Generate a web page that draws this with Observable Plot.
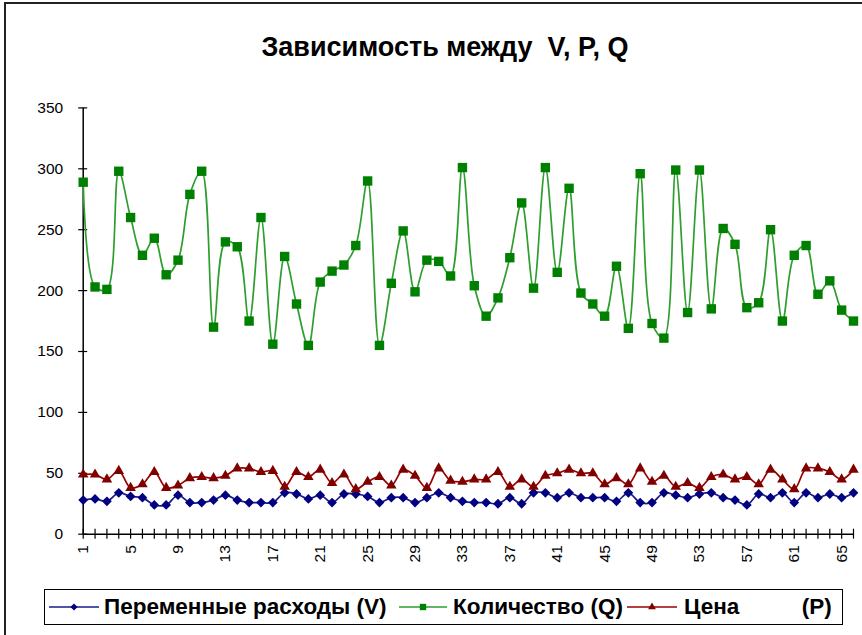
<!DOCTYPE html>
<html><head><meta charset="utf-8">
<script src="https://cdn.jsdelivr.net/npm/d3@7"></script>
<script src="https://cdn.jsdelivr.net/npm/@observablehq/plot@0.6"></script>
<style>
body{margin:0;background:#fff;}
#page{position:relative;width:862px;height:635px;overflow:hidden;font-family:"Liberation Sans",Arial,sans-serif;background:#fff;}
#frame{position:absolute;left:4px;top:2px;width:880px;height:660px;border-left:2px solid #222;border-top:2px solid #222;}
#title{position:absolute;left:0;width:890px;top:32px;text-align:center;font-weight:bold;font-size:27px;color:#000;white-space:pre;}
#chart{position:absolute;left:0;top:90px;}
#legend{position:absolute;left:44px;top:589px;width:797px;height:34px;border:1px solid #000;background:#fff;}
.item{position:absolute;top:0;height:34px;display:flex;align-items:center;font-weight:bold;font-size:22.5px;white-space:pre;color:#000;}
.sw{position:absolute;top:0;}
</style>
</head>
<body>
<div id="page">
  <div id="frame"></div>
  <div id="title">Зависимость между  V, P, Q</div>
  <div id="chart"></div>
  <div id="legend"></div>
</div>
<script>
// Categories (observation numbers)
const categories = [1,2,3,4,5,6,7,8,9,10,11,12,13,14,15,16,17,18,19,20,21,22,23,24,25,26,27,28,29,30,31,32,33,34,35,36,37,38,39,40,41,42,43,44,45,46,47,48,49,50,51,52,53,54,55,56,57,58,59,60,61,62,63,64,65,66];
// Переменные расходы (V)
const seriesV = [28,29,27,34,31,30,24,24,32,26,26,28,32,28,26,26,26,34,33,29,32,26,33,33,31,26,30,30,26,30,34,30,27,26,26,25,30,25,34,34,30,34,30,30,30,27,34,26,26,34,32,30,33,34,30,28,24,33,30,34,26,34,30,33,30,34];
// Количество (Q)
const seriesQ = [289,203,201,298,260,229,243,213,225,279,298,170,240,236,175,260,156,228,189,155,207,216,221,237,290,155,206,249,199,225,224,212,301,204,179,194,227,272,202,301,215,284,198,189,179,220,169,296,173,161,299,182,299,185,251,238,186,190,250,175,229,237,197,208,184,175];
// Цена (P)
const seriesP = [49,49,45,52,38,41,51,38,40,46,47,46,48,54,54,51,52,39,51,47,53,42,49,37,43,47,40,53,48,38,54,44,43,45,45,51,39,45,39,48,50,53,50,50,41,46,41,54,43,48,39,42,38,47,49,45,47,41,53,45,37,54,54,51,45,53];
// Tick labels
const xTickLabels = [1,5,9,13,17,21,25,29,33,37,41,45,49,53,57,61,65];
const yTickValues = [0,50,100,150,200,250,300,350];

const series = [
  {name:"Переменные расходы (V)", values: seriesV, line:"#1a1a8c", mark:"#000080", symbol:"diamond2", r:4.4},
  {name:"Количество (Q)", values: seriesQ, line:"#2e9e2e", mark:"#008000", symbol:"square", r:5.3},
  {name:"Цена          (P)", values: seriesP, line:"#990000", mark:"#800000", symbol:"triangle", r:3.9}
];
const rows = series.map(s => categories.map((c,k) => ({c, v: s.values[k]})));

const marks = [
  Plot.axisY(yTickValues, {tickSize:0, tickPadding:20, fontSize:15.5, label:null, tickFormat: d => String(d)}),
  Plot.axisX(xTickLabels, {tickSize:0, tickPadding:11, tickRotate:-90, fontSize:15.5, label:null, tickFormat: d => String(d)}),
  Plot.ruleX([categories[0]], {stroke:"#000", strokeWidth:1.5}),
  Plot.ruleY([0], {stroke:"#000", strokeWidth:1.5}),
  Plot.ruleX(categories, {x: d => d, y1: 0, y2: 0, insetTop:-5, insetBottom:-5, stroke:"#000", strokeWidth:1.2}),
  Plot.ruleY(yTickValues, {y: d => d, x1: categories[0], x2: categories[0], insetLeft:-4.5, insetRight:-4.5, stroke:"#000", strokeWidth:1.2})
];
series.forEach((s,i) => {
  marks.push(Plot.line(rows[i], {x:"c", y:"v", stroke:s.line, strokeWidth:1.7, curve:"catmull-rom"}));
  marks.push(Plot.dot(rows[i], {x:"c", y:"v", symbol:s.symbol, r:s.r, fill:s.mark, stroke:"none"}));
});

const chart = Plot.plot({
  width: 862, height: 495,
  marginTop: 17.4, marginBottom: 51.3, marginLeft: 82.7, marginRight: 9,
  x: {type:"linear", domain:[categories[0], categories[categories.length-1]], label:null},
  y: {domain:[0,350], label:null},
  style: {fontFamily:"'Liberation Sans', Arial, sans-serif", fontSize:"15px", color:"#000", background:"transparent"},
  marks
});
document.getElementById("chart").appendChild(chart);

// Legend
const legend = document.getElementById("legend");
const swX = [4, 354, 582];
const txX = [59, 408, 639];
const swW = [50, 48, 50];
const legR = [3.2, 3.6, 2.9];
series.forEach((s,i) => {
  const svg = d3.create("svg").attr("class","sw").attr("width", swW[i]).attr("height", 34)
    .style("left", swX[i] + "px");
  svg.append("line").attr("x1",0).attr("x2",swW[i]).attr("y1",17).attr("y2",17)
    .attr("stroke", s.line).attr("stroke-width",1.6);
  const sym = {diamond2: d3.symbolDiamond2, square: d3.symbolSquare, triangle: d3.symbolTriangle}[s.symbol];
  svg.append("path").attr("d", d3.symbol(sym, legR[i]*legR[i]*Math.PI)())
    .attr("transform", `translate(${swW[i]/2},17)`).attr("fill", s.mark);
  legend.appendChild(svg.node());
  const t = document.createElement("div");
  t.className = "item";
  t.style.left = txX[i] + "px";
  t.textContent = s.name;
  legend.appendChild(t);
});
</script>
</body></html>
